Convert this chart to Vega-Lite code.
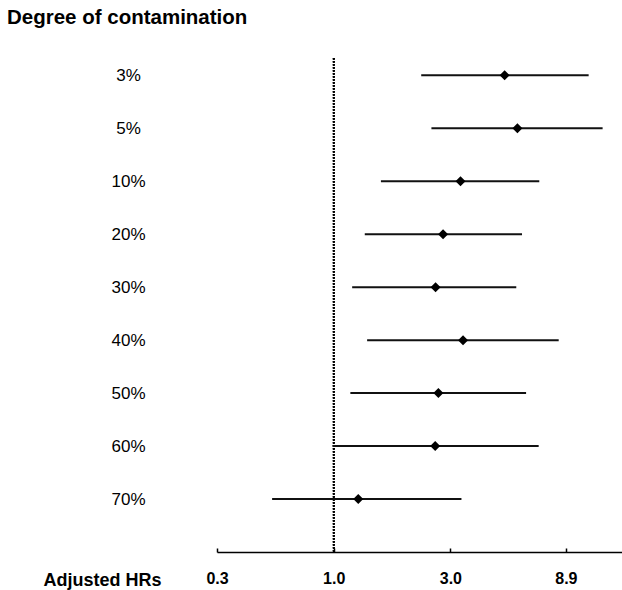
{
  "$schema": "https://vega.github.io/schema/vega-lite/v6.json",
  "autosize": {"type": "none"},
  "width": 405,
  "height": 494,
  "padding": {"left": 217, "top": 58, "right": 0, "bottom": 38},
  "title": {
    "text": "Degree of contamination",
    "anchor": "start",
    "frame": "group",
    "dx": -210,
    "offset": 29,
    "font": "Liberation Sans",
    "fontSize": 20.5,
    "fontWeight": "bold",
    "color": "#000000"
  },
  "config": {
    "view": {"stroke": null},
    "font": "Liberation Sans"
  },
  "data": {
    "values": [
      {"level": "3%", "lo": 2.28, "hr": 5.00, "hi": 11.03},
      {"level": "5%", "lo": 2.51, "hr": 5.64, "hi": 12.58},
      {"level": "10%", "lo": 1.56, "hr": 3.30, "hi": 6.93},
      {"level": "20%", "lo": 1.34, "hr": 2.80, "hi": 5.89},
      {"level": "30%", "lo": 1.19, "hr": 2.61, "hi": 5.58},
      {"level": "40%", "lo": 1.37, "hr": 3.38, "hi": 8.32},
      {"level": "50%", "lo": 1.17, "hr": 2.68, "hi": 6.12},
      {"level": "60%", "lo": 0.99, "hr": 2.60, "hi": 6.89},
      {"level": "70%", "lo": 0.56, "hr": 1.26, "hi": 3.33}
    ]
  },
  "encoding": {
    "y": {
      "field": "level",
      "type": "ordinal",
      "sort": null,
      "scale": {"type": "point", "padding": 0.664, "align": 0.247},
      "axis": {
        "title": null,
        "domain": false,
        "ticks": false,
        "tickSize": 0,
        "labelAlign": "center",
        "labelBaseline": "middle",
        "labelPadding": 89,
        "labelFont": "Liberation Sans",
        "labelFontSize": 17,
        "labelColor": "#000000"
      }
    }
  },
  "layer": [
    {
      "mark": {"type": "rule", "strokeDash": [1.5, 1.5], "strokeWidth": 1.5, "color": "#000000"},
      "encoding": {"x": {"datum": 1}, "y": null}
    },
    {
      "mark": {"type": "rule", "strokeWidth": 2, "color": "#111111"},
      "encoding": {
        "x": {
          "field": "lo",
          "type": "quantitative",
          "scale": {"type": "log", "domain": [0.3333, 15.1], "nice": false, "zero": false},
          "axis": {
            "values": [0.3333, 1, 3, 8.9],
            "format": ".1f",
            "grid": false,
            "domainColor": "#000000",
            "domainWidth": 1.5,
            "tickColor": "#000000",
            "tickWidth": 1.5,
            "tickSize": -4,
            "labelFlush": false,
            "labelFont": "Liberation Sans",
            "labelFontSize": 16,
            "labelFontWeight": "bold",
            "labelColor": "#000000",
            "labelPadding": 30,
            "labelBaseline": "middle",
            "title": "Adjusted HRs",
            "titleFont": "Liberation Sans",
            "titleFontSize": 18,
            "titleFontWeight": "bold",
            "titleColor": "#000000",
            "titleAlign": "left",
            "titleBaseline": "middle",
            "titleX": -174,
            "titleY": 28
          }
        },
        "x2": {"field": "hi"}
      }
    },
    {
      "mark": {"type": "point", "shape": "diamond", "filled": true, "size": 100, "color": "#000000", "opacity": 1},
      "encoding": {
        "x": {"field": "hr", "type": "quantitative"}
      }
    }
  ]
}
